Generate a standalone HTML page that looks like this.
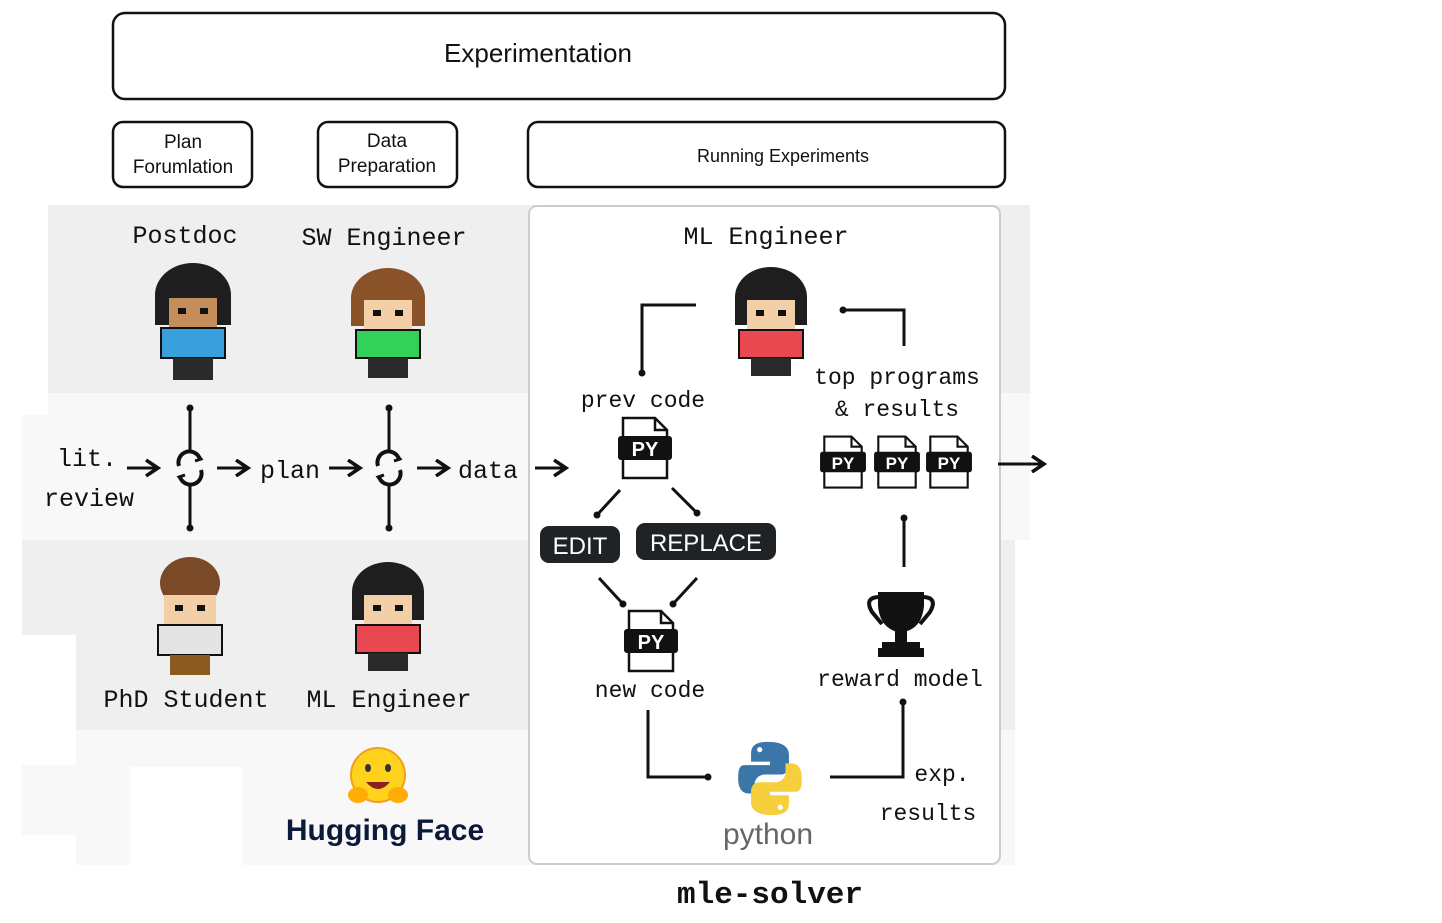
<!DOCTYPE html>
<html><head><meta charset="utf-8"><style>
html,body{margin:0;padding:0;background:#fff;}
svg{display:block;}
.m{font-family:"Liberation Mono","DejaVu Sans Mono",monospace;fill:#111;}
.s{font-family:"Liberation Sans","DejaVu Sans",sans-serif;fill:#111;}
</style></head><body>
<svg width="1442" height="923" viewBox="0 0 1442 923" xmlns="http://www.w3.org/2000/svg">
<defs>
<g id="py">
<path d="M-22,-30 H10 L22,-18 V30 H-22 Z" fill="#fff" stroke="#111" stroke-width="2.5"/>
<path d="M10,-30 V-18 H22" fill="none" stroke="#111" stroke-width="2.5"/>
<rect x="-27" y="-12" width="54" height="24" rx="3" fill="#111"/>
<text x="0" y="8" text-anchor="middle" font-family="Liberation Sans,sans-serif" font-weight="bold" font-size="20" fill="#fff">PY</text>
</g>
<marker id="ah" markerWidth="16" markerHeight="18" refX="13" refY="9" orient="auto" markerUnits="userSpaceOnUse"><path d="M1,1 L13,9 L1,17" fill="none" stroke="#111" stroke-width="3.5"/></marker>
</defs>
<!-- background bands -->
<rect x="48" y="205" width="982" height="188" fill="#efefef"/>
<rect x="48" y="393" width="982" height="147" fill="#f8f8f8"/>
<rect x="22" y="415" width="40" height="125" fill="#f8f8f8"/>
<rect x="22" y="540" width="993" height="95" fill="#efefef"/>
<rect x="76" y="635" width="939" height="95" fill="#efefef"/>
<rect x="76" y="730" width="939" height="135" fill="#f8f8f8"/>
<rect x="22" y="765" width="54" height="70" fill="#f8f8f8"/>
<rect x="130" y="767" width="113" height="98" fill="#fff"/>
<!-- top boxes -->
<rect x="113" y="13" width="892" height="86" rx="12" fill="#fff" stroke="#111" stroke-width="2.5"/>
<text x="538" y="62" text-anchor="middle" class="s" font-size="26">Experimentation</text>
<rect x="113" y="122" width="139" height="65" rx="10" fill="#fff" stroke="#111" stroke-width="2.5"/>
<text x="183" y="148" text-anchor="middle" class="s" font-size="19">Plan</text>
<text x="183" y="173" text-anchor="middle" class="s" font-size="19">Forumlation</text>
<rect x="318" y="122" width="139" height="65" rx="10" fill="#fff" stroke="#111" stroke-width="2.5"/>
<text x="387" y="147" text-anchor="middle" class="s" font-size="19">Data</text>
<text x="387" y="172" text-anchor="middle" class="s" font-size="19">Preparation</text>
<rect x="528" y="122" width="477" height="65" rx="10" fill="#fff" stroke="#111" stroke-width="2.5"/>
<text x="783" y="162" text-anchor="middle" class="s" font-size="18">Running Experiments</text>
<!-- mle box -->
<rect x="529" y="206" width="471" height="658" rx="8" fill="#fff" stroke="#ccc" stroke-width="2"/>
<!-- labels -->
<g class="m" font-size="25" text-anchor="middle">
<text x="185" y="243" class="m">Postdoc</text>
<text x="384" y="245" class="m">SW Engineer</text>
<text x="186" y="707" class="m">PhD Student</text>
<text x="389" y="707" class="m">ML Engineer</text>
<text x="766" y="244" class="m">ML Engineer</text>
<text x="87" y="466" class="m">lit.</text>
<text x="89" y="506" class="m">review</text>
<text x="290" y="478" class="m">plan</text>
<text x="488" y="478" class="m">data</text>
<text x="643" y="407" class="m" font-size="23">prev code</text>
<text x="650" y="697" class="m" font-size="23">new code</text>
<text x="897" y="384" class="m" font-size="23">top programs</text>
<text x="897" y="416" class="m" font-size="23">&amp; results</text>
<text x="900" y="686" class="m" font-size="23">reward model</text>
<text x="942" y="781" class="m" font-size="23">exp.</text>
<text x="928" y="820" class="m" font-size="23">results</text>
<text x="770" y="903" class="m" font-size="31" font-weight="bold">mle-solver</text>
</g>
<!-- characters -->
<g id="chars">
<g transform="translate(193,320)">
<ellipse cx="0" cy="-25" rx="38" ry="32" fill="#1e1e1e"/><rect x="-38" y="-25" width="76" height="30" fill="#1e1e1e"/>
<rect x="-24" y="-22" width="48" height="30" fill="#c58c5c"/><rect x="-15" y="-12" width="8" height="6" fill="#111"/><rect x="7" y="-12" width="8" height="6" fill="#111"/>
<rect x="-32" y="8" width="64" height="30" fill="#3aa0dc" stroke="#111" stroke-width="2"/>
<rect x="-20" y="38" width="40" height="22" fill="#2a2a2a"/>
</g>
<g transform="translate(388,320)">
<ellipse cx="0" cy="-22" rx="37" ry="30" fill="#8a5228"/><rect x="-37" y="-22" width="74" height="28" fill="#8a5228"/>
<rect x="-24" y="-20" width="48" height="30" fill="#f3cfa8"/><rect x="-15" y="-10" width="8" height="6" fill="#111"/><rect x="7" y="-10" width="8" height="6" fill="#111"/>
<rect x="-32" y="10" width="64" height="28" fill="#33d05a" stroke="#111" stroke-width="2"/>
<rect x="-20" y="38" width="40" height="20" fill="#2a2a2a"/>
</g>
<g transform="translate(190,615)">
<ellipse cx="0" cy="-32" rx="30" ry="26" fill="#7a4a28"/>
<rect x="-26" y="-20" width="52" height="30" fill="#f3cfa8"/><rect x="-15" y="-10" width="8" height="6" fill="#111"/><rect x="7" y="-10" width="8" height="6" fill="#111"/>
<rect x="-32" y="10" width="64" height="30" fill="#e4e4e4" stroke="#111" stroke-width="2"/>
<rect x="-20" y="40" width="40" height="20" fill="#8a5a20"/>
</g>
<g transform="translate(388,617)">
<ellipse cx="0" cy="-25" rx="36" ry="30" fill="#1e1e1e"/><rect x="-36" y="-25" width="72" height="28" fill="#1e1e1e"/>
<rect x="-24" y="-22" width="48" height="30" fill="#f3cfa8"/><rect x="-15" y="-12" width="8" height="6" fill="#111"/><rect x="7" y="-12" width="8" height="6" fill="#111"/>
<rect x="-32" y="8" width="64" height="28" fill="#e84850" stroke="#111" stroke-width="2"/>
<rect x="-20" y="36" width="40" height="18" fill="#2a2a2a"/>
</g>
<g transform="translate(771,322)">
<ellipse cx="0" cy="-25" rx="36" ry="30" fill="#1e1e1e"/><rect x="-36" y="-25" width="72" height="28" fill="#1e1e1e"/>
<rect x="-24" y="-22" width="48" height="30" fill="#f3cfa8"/><rect x="-15" y="-12" width="8" height="6" fill="#111"/><rect x="7" y="-12" width="8" height="6" fill="#111"/>
<rect x="-32" y="8" width="64" height="28" fill="#e84850" stroke="#111" stroke-width="2"/>
<rect x="-20" y="36" width="40" height="18" fill="#2a2a2a"/>
</g>
</g>
<!-- left flow -->
<g stroke="#111" stroke-width="3" fill="none">
<line x1="190" y1="408" x2="190" y2="450"/><line x1="190" y1="485" x2="190" y2="528"/>
<line x1="389" y1="408" x2="389" y2="450"/><line x1="389" y1="485" x2="389" y2="528"/>
<path d="M179,466 A11,11 0 0 1 200,459" stroke-width="4"/><path d="M201,470 A11,11 0 0 1 180,477" stroke-width="4"/>
<path d="M197,454 L201,459 L195,461" stroke-width="3"/><path d="M183,482 L179,477 L185,475" stroke-width="3"/>
<path d="M378,466 A11,11 0 0 1 399,459" stroke-width="4"/><path d="M400,470 A11,11 0 0 1 379,477" stroke-width="4"/>
<path d="M396,454 L400,459 L394,461" stroke-width="3"/><path d="M382,482 L378,477 L384,475" stroke-width="3"/>
<line x1="127" y1="468" x2="158" y2="468" marker-end="url(#ah)"/>
<line x1="217" y1="468" x2="248" y2="468" marker-end="url(#ah)"/>
<line x1="329" y1="468" x2="360" y2="468" marker-end="url(#ah)"/>
<line x1="417" y1="468" x2="448" y2="468" marker-end="url(#ah)"/>
<line x1="535" y1="468" x2="566" y2="468" marker-end="url(#ah)"/>
<line x1="998" y1="464" x2="1044" y2="464" marker-end="url(#ah)"/>
<path d="M696,305 H642 V373"/>
<path d="M843,310 H904 V346"/>
<line x1="620" y1="490" x2="597" y2="515"/><line x1="672" y1="488" x2="697" y2="513"/>
<line x1="599" y1="578" x2="623" y2="604"/><line x1="697" y1="578" x2="673" y2="604"/>
<path d="M648,710 V777 H708"/>
<path d="M830,777 H903 V702"/>
<line x1="904" y1="518" x2="904" y2="567"/>
</g>
<g fill="#111">
<circle cx="190" cy="408" r="3.5"/><circle cx="190" cy="528" r="3.5"/><circle cx="389" cy="408" r="3.5"/><circle cx="389" cy="528" r="3.5"/>
<circle cx="642" cy="373" r="3.5"/><circle cx="843" cy="310" r="3.5"/><circle cx="597" cy="515" r="3.5"/><circle cx="697" cy="513" r="3.5"/>
<circle cx="623" cy="604" r="3.5"/><circle cx="673" cy="604" r="3.5"/><circle cx="708" cy="777" r="3.5"/><circle cx="903" cy="702" r="3.5"/><circle cx="904" cy="518" r="3.5"/>
</g>
<!-- py files -->
<use href="#py" x="645" y="448"/>
<use href="#py" x="651" y="641"/>
<use href="#py" transform="translate(843,462) scale(0.85)"/>
<use href="#py" transform="translate(897,462) scale(0.85)"/>
<use href="#py" transform="translate(949,462) scale(0.85)"/>
<!-- edit replace -->
<rect x="540" y="526" width="80" height="37" rx="9" fill="#1f2326"/>
<text x="580" y="554" text-anchor="middle" class="s" font-size="24" style="fill:#fff">EDIT</text>
<rect x="636" y="523" width="140" height="37" rx="9" fill="#1f2326"/>
<text x="706" y="551" text-anchor="middle" class="s" font-size="24" style="fill:#fff">REPLACE</text>
<!-- trophy -->
<g fill="#111">
<path d="M878,592 H924 V606 Q922,628 904,632 H898 Q880,628 878,606 Z"/>
<path d="M878,597 Q864,598 872,612 L882,624" fill="none" stroke="#111" stroke-width="4"/>
<path d="M924,597 Q938,598 930,612 L920,624" fill="none" stroke="#111" stroke-width="4"/>
<rect x="895" y="630" width="12" height="14"/><rect x="882" y="642" width="38" height="8"/><rect x="878" y="648" width="46" height="9"/>
</g>
<!-- python logo -->
<g transform="translate(770,778) scale(0.86) translate(-770,-787)">
<path d="M768,745 C750,745 748,752 748,760 V768 H770 V772 H740 C733,772 733,782 733,788 C733,798 737,805 745,805 H752 V795 C752,788 757,783 764,783 H782 C788,783 792,779 792,773 V760 C792,752 786,745 768,745 Z" fill="#3a76a8"/>
<path d="M772,830 C790,830 792,823 792,815 V807 H770 V803 H800 C807,803 807,793 807,787 C807,777 803,770 795,770 H788 V780 C788,787 783,792 776,792 H758 C752,792 748,796 748,802 V815 C748,823 754,830 772,830 Z" fill="#f6cf3c"/>
<circle cx="758" cy="754" r="3" fill="#fff"/><circle cx="782" cy="821" r="3" fill="#fff"/>
</g>
<text x="768" y="844" text-anchor="middle" font-family="Liberation Sans,sans-serif" font-size="30" fill="#666">python</text>
<!-- hugging face -->
<circle cx="378" cy="775" r="27" fill="#ffd21e" stroke="#f0a020" stroke-width="2"/>
<ellipse cx="368" cy="768" rx="3" ry="4" fill="#333"/><ellipse cx="388" cy="768" rx="3" ry="4" fill="#333"/>
<path d="M366,782 Q378,796 390,782 Z" fill="#8a2020"/>
<ellipse cx="358" cy="795" rx="10" ry="8" fill="#ffad03"/><ellipse cx="398" cy="795" rx="10" ry="8" fill="#ffad03"/>
<text x="385" y="840" text-anchor="middle" font-family="Liberation Sans,sans-serif" font-weight="bold" font-size="30" fill="#0b1a3a">Hugging Face</text>
</svg>
</body></html>
